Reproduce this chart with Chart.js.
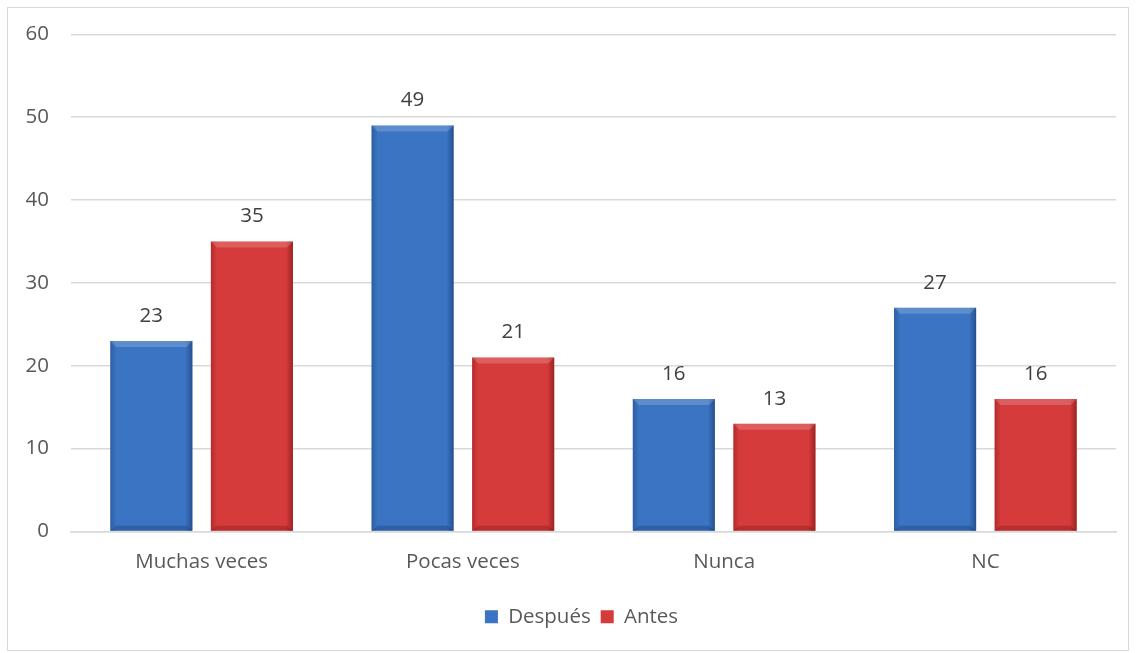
<!DOCTYPE html>
<html><head><meta charset="utf-8">
<script src="https://cdn.jsdelivr.net/npm/chart.js@4/dist/chart.umd.min.js"></script>
<style>
html,body{margin:0;padding:0;background:#fff;}
#frame{position:absolute;left:7px;top:7px;width:1122px;height:644px;border:1.5px solid #d9d9d9;box-sizing:border-box;}
#wrap{position:absolute;left:0;top:0;width:1136px;height:653px;}
</style></head>
<body>
<div id="frame"></div>
<div id="wrap"><canvas id="c" width="1136" height="653"></canvas></div>
<script>
const categories = ["Muchas veces", "Pocas veces", "Nunca", "NC"];
const despues = [23, 49, 16, 27];
const antes = [35, 21, 13, 16];
const seriesNames = ["Después", "Antes"];
const yTicks = [0, 10, 20, 30, 40, 50, 60];

const FONT = "'Open Sans', 'Noto Sans', sans-serif";
const FS = 20.5;

const bevel = {
  id: 'bevel',
  afterDatasetDraw(chart, args) {
    const ctx = chart.ctx;
    const meta = args.meta;
    const dark = meta.index === 0 ? 'rgba(20,50,100,' : 'rgba(110,15,15,';
    const light = 'rgba(255,255,255,';
    meta.data.forEach(bar => {
      const l = bar.x - bar.width / 2, r = bar.x + bar.width / 2;
      const t = bar.y, b = bar.base;
      ctx.save();
      let g = ctx.createLinearGradient(l, 0, l + 6, 0);
      g.addColorStop(0, dark + '0.35)'); g.addColorStop(1, dark + '0)');
      ctx.fillStyle = g; ctx.fillRect(l, t, 6, b - t);
      g = ctx.createLinearGradient(r - 7, 0, r, 0);
      g.addColorStop(0, dark + '0)'); g.addColorStop(1, dark + '0.55)');
      ctx.fillStyle = g; ctx.fillRect(r - 7, t, 7, b - t);
      ctx.beginPath();
      ctx.moveTo(l, t); ctx.lineTo(r, t); ctx.lineTo(r - 6, t + 6); ctx.lineTo(l + 6, t + 6); ctx.closePath();
      ctx.fillStyle = light + '0.18)'; ctx.fill();
      ctx.beginPath();
      ctx.moveTo(l, b); ctx.lineTo(r, b); ctx.lineTo(r - 6, b - 5); ctx.lineTo(l + 6, b - 5); ctx.closePath();
      ctx.fillStyle = dark + '0.3)'; ctx.fill();
      ctx.restore();
    });
  }
};

const labels = {
  id: 'vlabels',
  afterDatasetsDraw(chart) {
    const ctx = chart.ctx;
    ctx.save();
    ctx.font = FS + "px " + FONT;
    ctx.fillStyle = '#404040';
    ctx.textAlign = 'center';
    ctx.textBaseline = 'middle';
    chart.data.datasets.forEach((ds, i) => {
      chart.getDatasetMeta(i).data.forEach((bar, j) => {
        ctx.fillText(String(ds.data[j]), bar.x, bar.y - 25);
      });
    });
    ctx.restore();
  }
};

// center the legend a little right of the page centre, as in the original
const legendShift = {
  id: 'legendShift',
  afterLayout(chart) {
    const lg = chart.legend;
    if (!lg) return;
    const target = (chart.chartArea.left + chart.chartArea.right) / 2 - 12;
    const d = target - (lg.left + lg.right) / 2;
    lg.left += d; lg.right += d;
  }
};

new Chart(document.getElementById('c'), {
  type: 'bar',
  data: {
    labels: categories,
    datasets: [
      { label: seriesNames[0], data: despues, backgroundColor: '#3a74c3', borderWidth: 0 },
      { label: seriesNames[1], data: antes, backgroundColor: '#d63b3b', borderWidth: 0 }
    ]
  },
  options: {
    responsive: false,
    animation: false,
    devicePixelRatio: 1,
    layout: { padding: { left: 0, right: 20, top: 31, bottom: 16 } },
    datasets: { bar: { categoryPercentage: 0.77, barPercentage: 0.816 } },
    scales: {
      x: {
        grid: { display: false, drawTicks: false },
        border: { display: true, color: '#d9d9d9', width: 1.5 },
        ticks: { font: { size: FS, family: FONT }, color: '#595959', padding: 18 },
        afterFit(s) { s.height = 65; }
      },
      y: {
        min: 0, max: 60,
        afterBuildTicks(s) { s.ticks = yTicks.map(v => ({ value: v })); },
        grid: { color: '#d9d9d9', lineWidth: 1.5, drawTicks: false },
        border: { display: false },
        ticks: { font: { size: FS, family: FONT }, color: '#595959', padding: 22 },
        afterFit(s) { s.width = 71; }
      }
    },
    plugins: {
      legend: {
        position: 'bottom',
        labels: {
          font: { size: FS, family: FONT }, color: '#595959',
          boxWidth: 13, boxHeight: 13, padding: 10
        }
      },
      tooltip: { enabled: false }
    }
  },
  plugins: [bevel, labels, legendShift]
});
</script>
</body></html>
